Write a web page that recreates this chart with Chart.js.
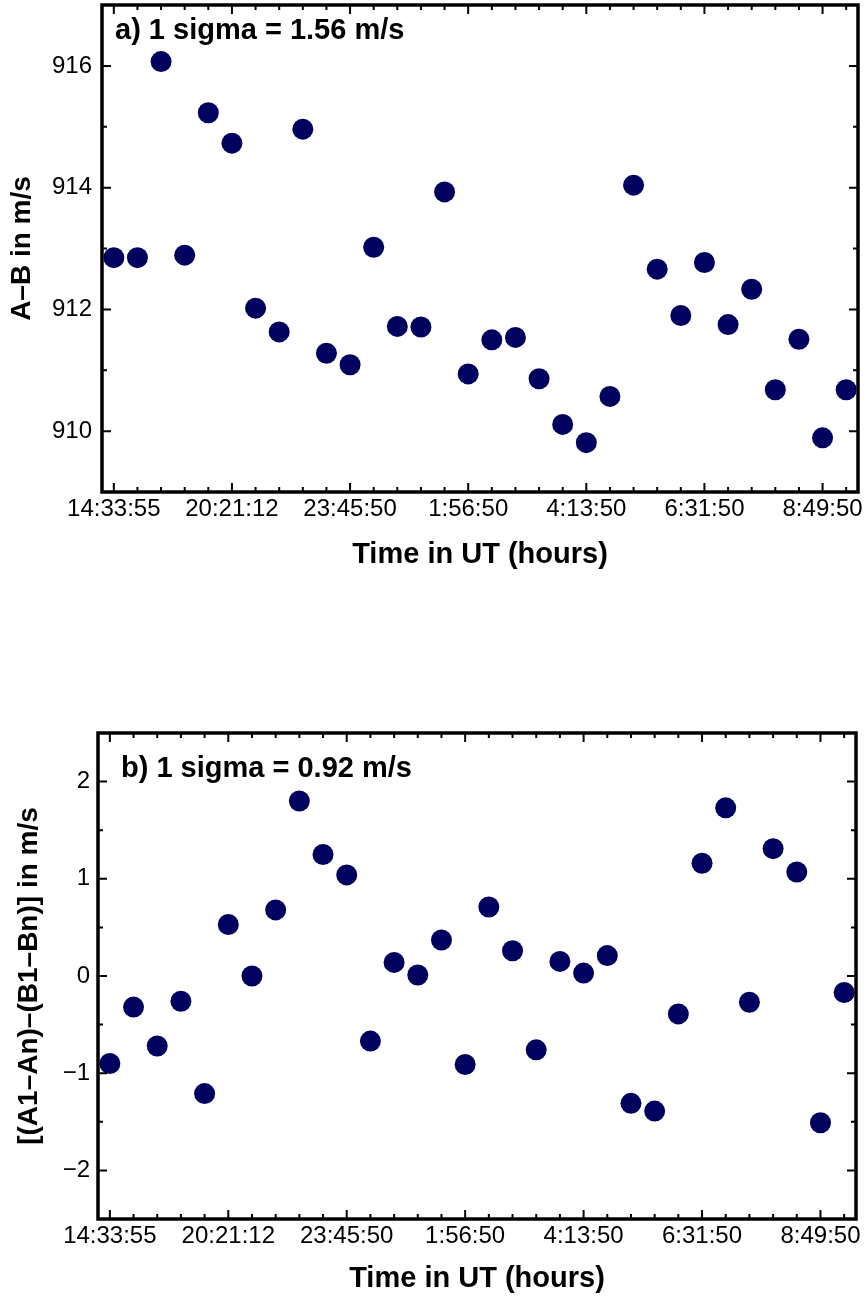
<!DOCTYPE html>
<html>
<head>
<meta charset="utf-8">
<script src="https://cdn.jsdelivr.net/npm/chart.js@4.4.1/dist/chart.umd.min.js"></script>
<style>
  html, body { margin: 0; padding: 0; background: #fff; }
  body { width: 867px; height: 1301px; position: relative; overflow: hidden; }
  canvas { position: absolute; left: 0; }
  #chart-a { top: 0; }
  #chart-b { top: 700px; }
</style>
</head>
<body>
<canvas id="chart-a" width="867" height="600"></canvas>
<canvas id="chart-b" width="867" height="601"></canvas>
<script>
// observation number (x axis), one per exposure pair
const obsIndex = [0, 1, 2, 3, 4, 5, 6, 7, 8, 9, 10, 11, 12, 13, 14, 15,
                  16, 17, 18, 19, 20, 21, 22, 23, 24, 25, 26, 27, 28, 29, 30, 31];

// labelled time ticks
const timeTickIdx = [0, 5, 10, 15, 20, 25, 30];
const timeTickLabels = ['14:33:55', '20:21:12', '23:45:50', '1:56:50', '4:13:50', '6:31:50', '8:49:50'];

// a) A-B in m/s
const abDiff = [912.85, 912.85, 916.07, 912.89, 915.23, 914.73, 912.02, 911.63,
                914.96, 911.28, 911.09, 913.02, 911.72, 911.71, 913.93, 910.94,
                911.50, 911.54, 910.86, 910.11, 909.81, 910.57, 914.04, 912.66,
                911.90, 912.77, 911.75, 912.33, 910.68, 911.51, 909.89, 910.68];

// b) [(A1-An)-(B1-Bn)] in m/s
const nodDiff = [-0.90, -0.32, -0.72, -0.26, -1.21, 0.53, 0.00, 0.68,
                 1.80, 1.25, 1.04, -0.67, 0.14, 0.01, 0.37, -0.91,
                 0.71, 0.26, -0.76, 0.15, 0.03, 0.21, -1.31, -1.39,
                 -0.39, 1.16, 1.73, -0.27, 1.31, 1.07, -1.51, -0.17];

// y ticks
const yTicksA = [909, 910, 911, 912, 913, 914, 915, 916, 917];
const yLabelsA = [910, 912, 914, 916];
const yTicksB = [-2.5, -2, -1.5, -1, -0.5, 0, 0.5, 1, 1.5, 2, 2.5];
const yLabelsB = [-2, -1, 0, 1, 2];

const FONT = "'Liberation Sans', Arial, Helvetica, sans-serif";
const DOT = '#00005f';

Chart.defaults.color = '#000';
Chart.defaults.font.family = FONT;

// box around plot area + inward ticks on all four sides + the sigma note
const framePlugin = {
  id: 'frame',
  afterDraw(chart, args, opts) {
    const { ctx, chartArea: a, scales: { x, y } } = chart;
    ctx.save();
    ctx.strokeStyle = '#000';
    ctx.lineWidth = 2;
    ctx.beginPath();
    x.ticks.forEach(t => {
      const px = x.getPixelForValue(t.value);
      const len = t.label !== '' ? 9 : 5;
      ctx.moveTo(px, a.bottom); ctx.lineTo(px, a.bottom - len);
      ctx.moveTo(px, a.top); ctx.lineTo(px, a.top + len);
    });
    y.ticks.forEach(t => {
      const py = y.getPixelForValue(t.value);
      const len = t.label !== '' ? 9 : 5;
      ctx.moveTo(a.left, py); ctx.lineTo(a.left + len, py);
      ctx.moveTo(a.right, py); ctx.lineTo(a.right - len, py);
    });
    ctx.stroke();
    ctx.lineWidth = 3.5;
    ctx.strokeRect(a.left, a.top, a.right - a.left, a.bottom - a.top);

    ctx.fillStyle = '#000';
    ctx.font = 'bold 29px ' + FONT;
    ctx.textBaseline = 'alphabetic';
    ctx.textAlign = 'left';
    ctx.fillText(opts.note, a.left + opts.dx, a.top + opts.dy);
    ctx.restore();
  }
};

function makeChart(id, cfg) {
  const points = obsIndex.map((v, i) => ({ x: v, y: cfg.values[i] }));
  return new Chart(document.getElementById(id), {
    type: 'scatter',
    data: {
      datasets: [{
        data: points,
        backgroundColor: DOT,
        borderWidth: 0,
        pointRadius: 10.5,
        pointHoverRadius: 10.5,
        clip: false
      }]
    },
    plugins: [framePlugin],
    options: {
      responsive: false,
      animation: false,
      events: [],
      layout: { padding: cfg.padding, autoPadding: false },
      plugins: {
        legend: { display: false },
        tooltip: { enabled: false },
        frame: cfg.note
      },
      scales: {
        x: {
          type: 'linear',
          min: -0.5,
          max: 31.5,
          grid: { display: false, drawTicks: false },
          border: { display: false },
          afterBuildTicks: s => { s.ticks = obsIndex.map(v => ({ value: v })); },
          afterFit: s => {
            s.height = cfg.xHeight;
            s.paddingLeft = 0; s.paddingRight = 0;
          },
          ticks: {
            autoSkip: false,
            maxRotation: 0,
            padding: 3,
            font: { size: 24 },
            callback: v => {
              const k = timeTickIdx.indexOf(v);
              return k >= 0 ? timeTickLabels[k] : '';
            }
          },
          title: {
            display: true,
            text: 'Time in UT (hours)',
            font: { size: 29, weight: 'bold' },
            padding: { top: 0, bottom: cfg.xTitlePad }
          }
        },
        y: {
          type: 'linear',
          min: cfg.yMin,
          max: cfg.yMax,
          grid: { display: false, drawTicks: false },
          border: { display: false },
          afterBuildTicks: s => { s.ticks = cfg.yTicks.map(v => ({ value: v })); },
          afterFit: s => {
            s.width = cfg.yWidth;
            s.paddingTop = 0; s.paddingBottom = 0;
          },
          ticks: {
            autoSkip: false,
            padding: cfg.yTickPad,
            font: { size: 24 },
            callback: v => cfg.yLabels.includes(v) ? String(v).replace('-', '\u2212') : ''
          },
          title: {
            display: true,
            text: cfg.yTitle,
            font: { size: 28, weight: 'bold' },
            padding: { top: cfg.yTitlePad, bottom: 0 }
          }
        }
      }
    }
  });
}

makeChart('chart-a', {
  values: abDiff,
  yMin: 909, yMax: 917,
  yTicks: yTicksA, yLabels: yLabelsA,
  yTitle: 'A\u2013B in m/s',
  padding: { top: 5, left: 0, right: 9, bottom: 0 },
  xHeight: 108, yWidth: 102,
  xTitlePad: 28, yTitlePad: 5, yTickPad: 10,
  note: { note: 'a) 1 sigma = 1.56 m/s', dx: 13, dy: 34 }
});

makeChart('chart-b', {
  values: nodDiff,
  yMin: -2.5, yMax: 2.5,
  yTicks: yTicksB, yLabels: yLabelsB,
  yTitle: '[(A1\u2013An)\u2013(B1\u2013Bn)] in m/s',
  padding: { top: 33, left: 0, right: 11, bottom: 0 },
  xHeight: 82, yWidth: 98,
  xTitlePad: 5, yTitlePad: 12, yTickPad: 8,
  note: { note: 'b) 1 sigma = 0.92 m/s', dx: 23, dy: 44 }
});
</script>
</body>
</html>
